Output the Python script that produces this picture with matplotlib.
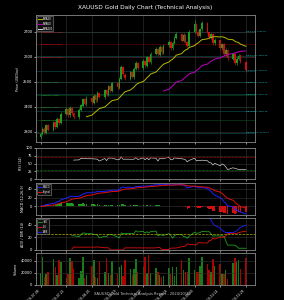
import numpy as np
import pandas as pd
import matplotlib
matplotlib.use("Agg")
import matplotlib.pyplot as plt
import matplotlib.dates as mdates

# ---------------- data ----------------
dates = pd.bdate_range("2024-07-08", "2024-10-28")
opens = [2280,2292,2313,2297,2327,2308,2338,2319,2353,2335,2373,2393,2367,2397,2374,2359,2389,2405,2431,2411,
         2437,2417,2446,2427,2456,2439,2467,2449,2483,2465,2496,2477,2513,2559,2529,2513,2539,2519,2553,2577,
         2554,2585,2565,2599,2579,2613,2633,2609,2641,2617,2646,2661,2634,2656,2676,2693,2664,2689,2659,2644,
         2701,2731,2701,2684,2711,2736,2699,2677,2691,2654,2669,2634,2651,2611,2629,2593,2611,2574,2593,2606,2579]
highs = [2298,2318,2320,2332,2331,2344,2342,2358,2357,2378,2399,2397,2403,2401,2379,2394,2413,2437,2436,2442,
         2441,2451,2449,2462,2460,2472,2470,2489,2487,2501,2499,2519,2566,2563,2534,2545,2543,2559,2583,2581,
         2590,2588,2605,2603,2619,2640,2637,2647,2645,2652,2668,2665,2662,2682,2699,2697,2695,2693,2664,2708,
         2748,2736,2706,2716,2745,2740,2703,2696,2694,2674,2672,2656,2655,2634,2632,2616,2614,2598,2611,2609,2583]
lows = [2273,2286,2292,2291,2302,2302,2313,2314,2329,2330,2367,2361,2361,2369,2353,2352,2383,2399,2406,2405,
        2412,2411,2421,2421,2434,2433,2444,2443,2460,2459,2471,2471,2506,2524,2507,2507,2514,2513,2547,2549,
        2548,2559,2559,2574,2573,2606,2603,2603,2611,2611,2640,2628,2628,2650,2670,2659,2658,2654,2638,2638,
        2694,2696,2679,2678,2705,2694,2671,2671,2648,2648,2629,2628,2605,2605,2587,2587,2568,2568,2587,2574,2541]
closes = [2291,2312,2298,2326,2309,2337,2320,2352,2336,2372,2392,2368,2396,2375,2360,2388,2406,2430,2412,2436,
          2418,2445,2428,2455,2440,2466,2450,2482,2466,2495,2478,2512,2558,2530,2514,2538,2520,2552,2576,2555,
          2584,2566,2598,2580,2612,2632,2610,2640,2618,2645,2660,2635,2655,2675,2692,2665,2688,2660,2645,2700,
          2730,2702,2685,2710,2735,2700,2678,2690,2655,2668,2635,2650,2612,2628,2594,2610,2575,2592,2605,2580,2548]
volumes = [19000,46000,13000,18000,22000,43000,30000,17000,41000,38000,12000,18000,44000,40000,26000,11000,23000,
           47000,11000,16000,32000,41000,13000,12000,40000,21000,45000,19000,16000,40000,18000,30000,33000,15000,
           41000,26000,17000,27000,43000,21000,29000,47000,19000,49000,20000,28000,22000,16000,13000,15000,28000,
           18000,29000,15000,30000,42000,24000,22000,21000,45000,24000,22000,21000,31000,46000,34000,25000,
           22000,43000,32000,35000,18000,18000,25000,10000,36000,45000,38000,41000,27000,45000]

resistance = [2700, 2652, 2600]
support = [2500, 2448, 2400, 2348]
fib_high, fib_low = 2700, 2296
fib_ratios = [0.0, 0.236, 0.382, 0.5, 0.618, 0.786, 1.0]
date_ticks = ["2024-07-08", "2024-07-22", "2024-08-05", "2024-08-19", "2024-09-02",
              "2024-09-16", "2024-09-30", "2024-10-14", "2024-10-28"]

df = pd.DataFrame({"Open": opens, "High": highs, "Low": lows, "Close": closes, "Volume": volumes}, index=dates)

# indicators
sma20 = df.Close.rolling(20).mean()
sma50 = df.Close.rolling(50).mean()
sma200 = df.Close.rolling(200).mean()
delta = df.Close.diff()
gain = delta.clip(lower=0).rolling(14).mean()
loss = (-delta.clip(upper=0)).rolling(14).mean()
rsi = 100 - 100 / (1 + gain / loss)
ema12 = df.Close.ewm(span=12, adjust=False).mean()
ema26 = df.Close.ewm(span=26, adjust=False).mean()
macd = ema12 - ema26
signal = macd.ewm(span=9, adjust=False).mean()
hist = macd - signal
up = df.High.diff()
dn = -df.Low.diff()
pdm = np.where((up > dn) & (up > 0), up, 0.0)
mdm = np.where((dn > up) & (dn > 0), dn, 0.0)
tr = pd.concat([df.High - df.Low, (df.High - df.Close.shift()).abs(), (df.Low - df.Close.shift()).abs()], axis=1).max(axis=1)
atr = tr.rolling(14).mean()
pdi = 100 * pd.Series(pdm, index=dates).rolling(14).mean() / atr
mdi = 100 * pd.Series(mdm, index=dates).rolling(14).mean() / atr
dx = 100 * (pdi - mdi).abs() / (pdi + mdi)
adx = dx.rolling(14).mean()

# ---------------- style ----------------
BG = "black"
FG = "white"
GRID = "#333333"
plt.rcParams.update({"font.family": "DejaVu Sans", "font.size": 3,
                     "axes.facecolor": BG, "figure.facecolor": BG,
                     "axes.edgecolor": "#888888", "text.color": FG,
                     "xtick.color": FG, "ytick.color": FG, "axes.labelcolor": FG})

fig = plt.figure(figsize=(2.84, 3.0), dpi=100)
L, W = 0.127, 0.771
ax1 = fig.add_axes([L, 0.527, W, 0.423])
ax2 = fig.add_axes([L, 0.403, W, 0.104], sharex=ax1)
ax3 = fig.add_axes([L, 0.283, W, 0.107], sharex=ax1)
ax4 = fig.add_axes([L, 0.167, W, 0.106], sharex=ax1)
ax5 = fig.add_axes([L, 0.050, W, 0.107], sharex=ax1)
axes = [ax1, ax2, ax3, ax4, ax5]
for ax in axes:
    ax.grid(True, color=GRID, linewidth=0.4)
    ax.tick_params(length=1.5, width=0.4, labelsize=2.6, pad=1)
    for s in ax.spines.values():
        s.set_linewidth(0.6)

UPC, DNC = "#1f9a1f", "#d01010"
x = mdates.date2num(df.index)
colors = [UPC if c >= o else DNC for o, c in zip(df.Open, df.Close)]
ax1.vlines(x, df.Low, df.High, colors=colors, linewidth=0.5, zorder=3)
ax1.bar(x, (df.Close - df.Open).abs().clip(lower=1), bottom=np.minimum(df.Open, df.Close),
        width=0.9, color=colors, zorder=4)
ax1.plot(x, sma20, color="#b8b800", linewidth=0.7, label="SMA20", zorder=5)
ax1.plot(x, sma50, color="#c000c0", linewidth=0.7, label="SMA50", zorder=5)
ax1.plot(x, sma200, color="#dddddd", linewidth=0.7, label="SMA200", zorder=5)

for i, r in enumerate(resistance):
    ax1.axhline(r, color="#5a0000", linewidth=0.5, zorder=1)
    ax1.text(x[0], r, f"Resistance {i+1}: {r:.0f}", color="#ff2020", fontsize=1.6, va="center")
for i, s in enumerate(support):
    ax1.axhline(s, color="#0a4016", linewidth=0.5, zorder=1)
    ax1.text(x[0], s, f"Support {i+1}: {s:.0f}", color="#30c030", fontsize=1.6, va="center")
for fr in fib_ratios:
    lvl = fib_high - (fib_high - fib_low) * fr
    ax1.axhline(lvl, color="#0b4646", linewidth=0.5, zorder=1)
    ax1.text(x[-1], lvl, f"Fib {fr*100:.1f}%: {lvl:.2f}", color="#20d0d0", fontsize=1.6,
             va="center", clip_on=False)

ax1.set_ylim(2260, 2768)
ax1.set_yticks([2300, 2400, 2500, 2600, 2700])
ax1.set_ylabel("Price (USD/oz)", fontsize=2.4, labelpad=2)
ax1.set_title("XAUUSD Gold Daily Chart (Technical Analysis)", fontsize=4.2, color=FG, pad=4)


def small_legend(ax):
    leg = ax.legend(loc="upper left", fontsize=1.8, facecolor="#111111", edgecolor="#888888",
                    labelcolor=FG, handlelength=1.4, borderpad=0.3, labelspacing=0.3,
                    handletextpad=0.4, framealpha=1)
    leg.get_frame().set_linewidth(0.4)


small_legend(ax1)

ax2.plot(x, rsi, color="#cccccc", linewidth=0.5)
ax2.axhline(70, color="#a00000", linewidth=0.5, linestyle="--")
ax2.axhline(30, color="#007000", linewidth=0.5, linestyle="--")
ax2.set_ylim(0, 100)
ax2.set_yticks([0, 25, 50, 75, 100])
ax2.set_ylabel("RSI (14)", fontsize=2.4, labelpad=2)

hcol = [UPC if h >= 0 else DNC for h in hist]
ax3.bar(x, hist, width=0.8, color=hcol, zorder=2)
ax3.plot(x, macd, color="#2020ff", linewidth=0.7, label="MACD", zorder=3)
ax3.plot(x, signal, color="#e01010", linewidth=0.7, label="Signal", zorder=3)
ax3.margins(y=0.04)
ax3.set_ylabel("MACD (12,26,9)", fontsize=2.4, labelpad=2)
small_legend(ax3)

ax4.plot(x, pdi, color="#20a020", linewidth=0.6, label="+DI")
ax4.plot(x, mdi, color="#e01010", linewidth=0.6, label="-DI")
ax4.plot(x, adx, color="#2020ff", linewidth=0.6, label="ADX")
ax4.axhline(25, color="#b0b000", linewidth=0.5, linestyle="--")
ax4.set_ylim(0, 51)
ax4.set_yticks([0, 20, 40])
ax4.set_ylabel("ADX / DMI (14)", fontsize=2.4, labelpad=2)
small_legend(ax4)

ax5.bar(x, df.Volume, width=0.8, color=["#1a7a1a" if c == UPC else "#b00000" for c in colors])
ax5.set_ylim(0, 53000)
ax5.set_yticks([0, 20000, 40000])
ax5.set_ylabel("Volume", fontsize=2.4, labelpad=2)

ticks = mdates.date2num(pd.to_datetime(date_ticks))
ax5.set_xticks(ticks)
ax5.set_xticklabels(date_ticks, rotation=45, ha="right", fontsize=2.2)
ax1.set_xlim(x[0] - 2.5, x[-1] + 5)
for ax in axes[:-1]:
    plt.setp(ax.get_xticklabels(), visible=False)

fig.text(0.5, 0.015, "XAUUSD Gold Technical Analysis Report - 2024/10/28", ha="center",
         fontsize=2.6, color="#cccccc")
fig.savefig("out.png", dpi=100, facecolor=BG)
